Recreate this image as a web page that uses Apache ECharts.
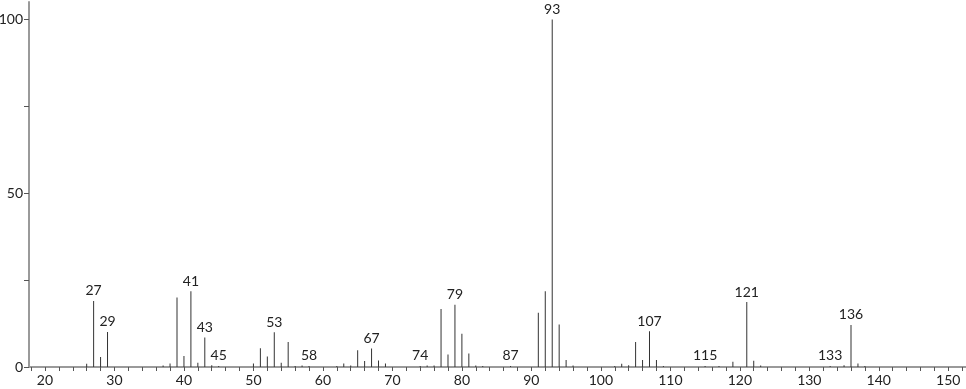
<!DOCTYPE html>
<html>
<head>
<meta charset="utf-8">
<script src="https://cdn.jsdelivr.net/npm/echarts@6/dist/echarts.min.js"></script>
<style>html,body{margin:0;padding:0;background:#fff;}#c{width:966px;height:389px;}</style>
</head>
<body>
<div id="c"></div>
<script>
var mz = [26,27,28,29,37,38,39,40,41,42,43,44,45,50,51,52,53,54,55,56,57,58,62,63,64,65,66,67,68,69,74,75,76,77,78,79,80,81,82,83,87,91,92,93,94,95,96,102,103,104,105,106,107,108,109,115,117,119,121,122,123,133,135,136,137,138];
var intensity = [0.9,19.0,2.9,10.1,0.4,1.0,20.0,3.2,21.8,1.2,8.5,0.5,0.3,1.0,5.4,3.0,10.0,1.2,7.2,0.3,0.4,0.3,0.3,1.0,0.4,4.8,1.7,5.3,1.9,1.0,0.3,0.4,0.4,16.7,3.6,17.9,9.6,3.9,0.4,0.3,0.3,15.6,21.8,100,12.2,2.0,0.4,0.3,0.9,0.5,7.2,2.0,10.3,2.0,0.3,0.3,0.3,1.5,18.7,1.8,0.4,0.3,0.5,12.1,1.0,0.3];
var labeled = [27,29,41,43,45,53,58,67,74,79,87,93,107,115,121,133,136];
var xLabels = [20,30,40,50,60,70,80,90,100,110,120,130,140,150];
var xTicks = [];
for (var t = 18; t <= 152; t += 2) xTicks.push(t);
var yLabels = [0,50,100];
var yTicks = [0,25,50,75,100];

var data = mz.map(function(m, i){
  var item = {value:[m, intensity[i]]};
  if (labeled.indexOf(m) >= 0) item.label = {show:true};
  return item;
});

var font = 'Lato, "DejaVu Sans", sans-serif';
var chart = echarts.init(document.getElementById('c'));
chart.setOption({
  animation:false,
  grid:{left:29,right:0,top:2,bottom:22,containLabel:false,outerBoundsMode:'none'},
  xAxis:{
    type:'value', min:17.7, max:152.55,
    axisLine:{show:true,lineStyle:{color:'#9a9a9a',width:2}},
    axisTick:{show:true,customValues:xTicks,length:4,lineStyle:{color:'#555',width:1}},
    axisLabel:{customValues:xLabels,color:'#222',fontSize:14,fontFamily:font,margin:6},
    splitLine:{show:false}
  },
  yAxis:{
    type:'value', min:0, max:105,
    axisLine:{show:true,lineStyle:{color:'#9a9a9a',width:2}},
    axisTick:{show:true,customValues:yTicks,length:5,lineStyle:{color:'#555',width:1}},
    axisLabel:{customValues:yLabels,color:'#222',fontSize:14,fontFamily:font,margin:6},
    splitLine:{show:false}
  },
  series:[{
    type:'bar',
    barWidth:1,
    itemStyle:{color:'#333'},
    label:{show:false,position:'top',distance:3,color:'#222',fontSize:14,fontFamily:font,
      formatter:function(p){return p.value[0];}},
    data:data
  }]
});
</script>
</body>
</html>
